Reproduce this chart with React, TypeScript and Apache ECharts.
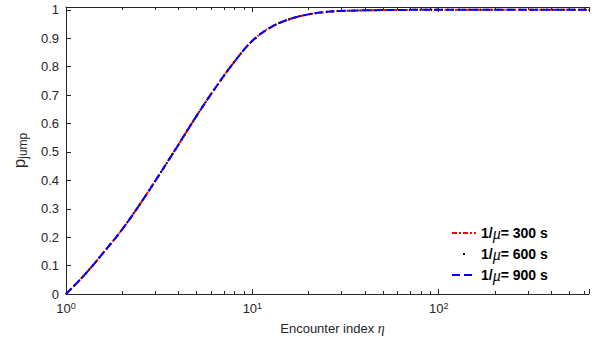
import React, { useEffect, useRef } from "react";
import * as echarts from "echarts";

const eta = [1, 1.26, 1.58, 2, 2.51, 3.16, 3.98, 5.01, 6.31, 7.94, 10, 12.6, 15.8, 20, 25.1, 31.6, 50, 100, 640];
const p300 = [0, 0.068, 0.144, 0.227, 0.319, 0.419, 0.522, 0.626, 0.724, 0.814, 0.891, 0.939, 0.967, 0.984, 0.993, 0.9965, 0.9992, 1, 1];
const p600 = [0, 0.068, 0.144, 0.227, 0.319, 0.419, 0.522, 0.626, 0.724, 0.814, 0.891, 0.939, 0.967, 0.984, 0.993, 0.9965, 0.9992, 1, 1];
const p900 = [0, 0.068, 0.144, 0.227, 0.319, 0.419, 0.522, 0.626, 0.724, 0.814, 0.891, 0.939, 0.967, 0.984, 0.993, 0.9965, 0.9992, 1, 1];
const seriesNames = ["1/μ= 300 s", "1/μ= 600 s", "1/μ= 900 s"];
const minorTicks = [2, 3, 4, 5, 6, 7, 8, 9, 20, 30, 40, 50, 60, 70, 80, 90, 200, 300, 400, 500, 600];
const yTicks = [0, 0.1, 0.2, 0.3, 0.4, 0.5, 0.6, 0.7, 0.8, 0.9, 1];

const X_MIN = 1;
const X_MAX = 640;
const Y_MAX = 1.01;
const FONT = "'Liberation Sans', Arial, Helvetica, sans-serif";
const AX = "#262626";

const ICON_DASHDOT = "path://M0,0M24,14M0,6h5v2h-5zM7,6h2v2h-2zM11,6h5v2h-5zM18,6h2v2h-2zM22,6h2v2h-2z";
const ICON_DOT = "path://M0,0M24,14M11,6h2v2h-2z";
const ICON_DASH = "path://M0,0M24,14M0,6h8v2h-8zM12,6h8v2h-8z";

export default function App() {
  const ref = useRef<HTMLDivElement>(null);
  useEffect(() => {
    if (!ref.current) return;
    const chart = echarts.init(ref.current, null, { renderer: "svg" });
    const pair = (ys: number[]) => eta.map((x, i) => [x, ys[i]]);
    const xLabelFmt = (v: number) => {
      const e = Math.round(Math.log10(v));
      if (Math.abs(Math.pow(10, e) - v) > 1e-6 * v) return "";
      return `{b|10}{s|${e}}`;
    };
    const option: any = {
      animation: false,
      grid: { left: 66, right: 0, top: 7, bottom: 37 },
      legend: {
        orient: "vertical",
        left: 447,
        top: 220,
        padding: 5,
        itemWidth: 24,
        itemHeight: 14,
        itemGap: 5,
        data: [
          { name: seriesNames[0], icon: ICON_DASHDOT },
          { name: seriesNames[1], icon: ICON_DOT },
          { name: seriesNames[2], icon: ICON_DASH },
        ],
        formatter: (name: string) => {
          const v = name.split("= ")[1];
          return `{b|1/}{m|μ}{b|= ${v}}`;
        },
        textStyle: {
          color: "#000",
          rich: {
            b: { fontFamily: FONT, fontWeight: "bold", fontSize: 14, lineHeight: 14, color: "#000" },
            m: { fontFamily: "'Liberation Serif', 'DejaVu Serif', serif", fontStyle: "italic", fontSize: 16, lineHeight: 14, color: "#000" },
          },
        },
      },
      xAxis: [
        {
          type: "log",
          logBase: 10,
          min: X_MIN,
          max: X_MAX,
          position: "bottom",
          axisLine: { show: true, lineStyle: { color: AX, width: 1 } },
          axisTick: { show: true, inside: true, length: 5, lineStyle: { color: AX } },
          splitLine: { show: false },
          axisLabel: {
            margin: 7,
            formatter: xLabelFmt,
            rich: {
              b: { fontFamily: FONT, fontSize: 13, lineHeight: 14, padding: [4, 0, 0, 0], verticalAlign: "bottom", color: AX },
              s: { fontFamily: FONT, fontSize: 9, lineHeight: 10, verticalAlign: "top", color: AX },
            },
          },
          name: "{a|Encounter index }{g|η}",
          nameLocation: "middle",
          nameGap: 27,
          nameTextStyle: {
            padding: [0, 0, 0, 10],
            rich: {
              a: { fontFamily: FONT, fontSize: 13, color: AX },
              g: { fontFamily: "'Liberation Serif', 'DejaVu Serif', serif", fontStyle: "italic", fontSize: 14, color: AX },
            },
          },
        },
        {
          type: "log",
          logBase: 10,
          min: X_MIN,
          max: X_MAX,
          position: "top",
          axisLine: { show: true, lineStyle: { color: AX, width: 1 } },
          axisTick: { show: true, inside: true, length: 5, lineStyle: { color: AX } },
          axisLabel: { show: false },
          splitLine: { show: false },
        },
      ],
      yAxis: {
        type: "value",
        min: 0,
        max: Y_MAX,
        interval: 0.1,
        axisLine: { show: true, lineStyle: { color: AX, width: 1 } },
        axisTick: { show: true, inside: true, length: 5, lineStyle: { color: AX } },
        splitLine: { show: false },
        axisLabel: {
          margin: 7,
          fontFamily: FONT,
          fontSize: 13,
          color: AX,
          formatter: (v: number) => {
            const t = yTicks.find((k) => Math.abs(k - v) < 1e-6);
            return t === undefined ? "" : String(t);
          },
        },
        name: "{p|p}{s|jump}",
        nameLocation: "middle",
        nameRotate: 90,
        nameGap: 37,
        nameTextStyle: {
          rich: {
            p: { fontFamily: FONT, fontSize: 17, lineHeight: 18, verticalAlign: "top", color: AX },
            s: { fontFamily: FONT, fontSize: 12, lineHeight: 13, padding: [7, 0, 0, 0], verticalAlign: "bottom", color: AX },
          },
        },
      },
      series: [
        {
          type: "custom",
          name: "minorTicks",
          silent: true,
          clip: false,
          xAxisIndex: 0,
          yAxisIndex: 0,
          data: minorTicks.map((v) => [v, 0]),
          renderItem: (_p: any, api: any) => {
            const v = api.value(0);
            const b = api.coord([v, 0]);
            const t = api.coord([v, Y_MAX]);
            const x = Math.round(b[0]) + 0.5;
            return {
              type: "group",
              children: [
                { type: "line", shape: { x1: x, y1: b[1], x2: x, y2: b[1] - 3 }, style: { stroke: AX, lineWidth: 1 } },
                { type: "line", shape: { x1: x, y1: t[1], x2: x, y2: t[1] + 3 }, style: { stroke: AX, lineWidth: 1 } },
              ],
            };
          },
        },
        {
          type: "line",
          name: seriesNames[0],
          data: pair(p300),
          symbol: "none",
          smooth: 0.4,
          color: "#ff0000",
          lineStyle: { color: "#ff0000", width: 2, type: [5, 2, 1.5, 2] },
        },
        {
          type: "line",
          name: seriesNames[1],
          data: pair(p600),
          symbol: "none",
          smooth: 0.4,
          color: "#000000",
          lineStyle: { color: "#000000", width: 2, type: [1.5, 4] },
        },
        {
          type: "line",
          name: seriesNames[2],
          data: pair(p900),
          symbol: "none",
          smooth: 0.4,
          color: "#0000ff",
          lineStyle: { color: "#0000ff", width: 2, type: [8, 4] },
        },
      ],
    };
    chart.setOption(option);
    return () => chart.dispose();
  }, []);
  return (
    <div
      ref={ref}
      style={{ position: "fixed", left: 0, top: 0, width: 592, height: 340, background: "#fff" }}
    />
  );
}
